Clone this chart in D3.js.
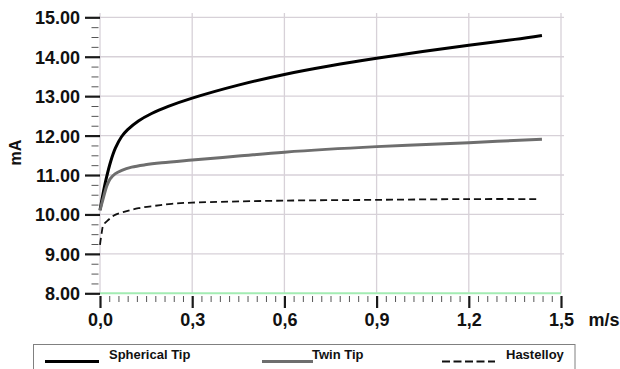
<!DOCTYPE html>
<html><head><meta charset="utf-8">
<script src="https://cdn.jsdelivr.net/npm/d3@7"></script>
<style>
html,body{margin:0;padding:0;background:#fff;}
svg{display:block;font-family:"Liberation Sans",Arial,Helvetica,sans-serif;font-weight:bold;}
</style></head>
<body>
<svg id="c" width="620" height="369"></svg>
<script>
const xTicks = [0, 0.3, 0.6, 0.9, 1.2, 1.5];
const xTickLabels = ["0,0", "0,3", "0,6", "0,9", "1,2", "1,5"];
const yTicks = [8, 9, 10, 11, 12, 13, 14, 15];
const yTickLabels = ["8.00", "9.00", "10.00", "11.00", "12.00", "13.00", "14.00", "15.00"];
const seriesNames = ["Spherical Tip", "Twin Tip", "Hastelloy"];

const sphericalX = [0, 0.008, 0.02, 0.035, 0.05, 0.07, 0.09, 0.125, 0.168, 0.222, 0.3, 0.45, 0.6, 0.75, 0.9, 1.05, 1.2, 1.35, 1.438];
const sphericalY = [10.11, 10.45, 10.9, 11.35, 11.68, 11.97, 12.15, 12.37, 12.56, 12.74, 12.95, 13.28, 13.55, 13.77, 13.96, 14.13, 14.29, 14.44, 14.54];

const twinX = [0, 0.006, 0.012, 0.022, 0.033, 0.049, 0.071, 0.103, 0.147, 0.201, 0.3, 0.45, 0.6, 0.9, 1.2, 1.438];
const twinY = [10.1, 10.28, 10.45, 10.72, 10.9, 11.03, 11.12, 11.2, 11.26, 11.31, 11.38, 11.48, 11.58, 11.72, 11.82, 11.91];

const hastX = [0, 0.006, 0.011, 0.027, 0.049, 0.081, 0.125, 0.179, 0.233, 0.3, 0.6, 0.9, 1.2, 1.424];
const hastY = [9.23, 9.56, 9.73, 9.86, 9.99, 10.07, 10.16, 10.22, 10.27, 10.30, 10.35, 10.37, 10.39, 10.39];

const svg = d3.select("#c");
const x = d3.scaleLinear().domain([0, 1.5]).range([100, 561]);
const y = d3.scaleLinear().domain([8, 15]).range([293.3, 17.3]);

const grid = "#d7d1d8";
svg.append("g").selectAll("line").data(xTicks).join("line")
  .attr("x1", d => x(d)).attr("x2", d => x(d))
  .attr("y1", 13).attr("y2", y(8))
  .attr("stroke", grid).attr("stroke-width", 1.3);
svg.append("g").selectAll("line").data(yTicks.slice(1)).join("line")
  .attr("x1", x(0)).attr("x2", 564)
  .attr("y1", d => y(d)).attr("y2", d => y(d))
  .attr("stroke", grid).attr("stroke-width", 1.3);
svg.append("line").attr("x1", x(0)).attr("x2", x(1.5)).attr("y1", y(8)).attr("y2", y(8))
  .attr("stroke", "#a3ecb3").attr("stroke-width", 2);

const yMinor = d3.range(8, 15.001, 0.25).filter(v => Math.abs(v - Math.round(v)) > 0.01);
const yMinAx = svg.append("g").attr("transform", "translate(98.5,0)")
  .call(d3.axisLeft(y).tickValues(yMinor).tickSize(7).tickFormat(""));
yMinAx.select(".domain").remove();
yMinAx.selectAll("line").attr("stroke", "#555").attr("stroke-width", 1);

const yAx = svg.append("g").attr("transform", "translate(100,0)")
  .call(d3.axisLeft(y).tickValues(yTicks).tickSize(15).tickPadding(5)
    .tickFormat((d, i) => yTickLabels[i]));
yAx.select(".domain").remove();
yAx.selectAll("line").attr("stroke", "#1a1a1a").attr("stroke-width", 2.2);
yAx.selectAll("text").attr("font-size", 18).attr("font-weight", "bold")
  .attr("font-family", "'Liberation Sans',Arial,sans-serif").attr("fill", "#111").attr("dy", "0.36em");

const xMinor = d3.range(0, 1.5001, 0.03).filter(v => Math.abs(v / 0.3 - Math.round(v / 0.3)) > 0.01);
const xMinAx = svg.append("g").attr("transform", "translate(0,296)")
  .call(d3.axisBottom(x).tickValues(xMinor).tickSize(6).tickFormat(""));
xMinAx.select(".domain").remove();
xMinAx.selectAll("line").attr("stroke", "#555").attr("stroke-width", 1);

const xAx = svg.append("g").attr("transform", "translate(0,296)")
  .call(d3.axisBottom(x).tickValues(xTicks).tickSize(12)
    .tickFormat((d, i) => xTickLabels[i]));
xAx.select(".domain").remove();
xAx.selectAll("line").attr("stroke", "#1a1a1a").attr("stroke-width", 2.2);
xAx.selectAll("text").attr("font-size", 18).attr("font-weight", "bold")
  .attr("font-family", "'Liberation Sans',Arial,sans-serif").attr("fill", "#111")
  .attr("y", 30).attr("dy", 0);

svg.append("text").attr("x", 604).attr("y", 326).attr("text-anchor", "middle")
  .attr("font-size", 18).attr("fill", "#111").text("m/s");
svg.append("text").attr("transform", "translate(21,152.5) rotate(-90)")
  .attr("text-anchor", "middle").attr("font-size", 16).attr("fill", "#111").text("mA");

const line = d3.line().x(d => x(d[0])).y(d => y(d[1])).curve(d3.curveCatmullRom.alpha(0.5));
const series = [
  {pts: d3.zip(sphericalX, sphericalY), color: "#000", w: 3, dash: null},
  {pts: d3.zip(twinX, twinY), color: "#6e6e6e", w: 3, dash: null},
  {pts: d3.zip(hastX, hastY), color: "#111", w: 1.8, dash: "7,4"}
];
series.forEach(s => {
  svg.append("path").attr("d", line(s.pts)).attr("fill", "none")
    .attr("stroke", s.color).attr("stroke-width", s.w)
    .attr("stroke-dasharray", s.dash).attr("stroke-linecap", "butt")
    .attr("stroke-linejoin", "round");
});

svg.append("rect").attr("x", 33.5).attr("y", 344.5).attr("width", 541.5).attr("height", 40)
  .attr("fill", "none").attr("stroke", "#808080").attr("stroke-width", 1);
const leg = [
  {x1: 45, x2: 99, tx: 109},
  {x1: 262, x2: 313, tx: 312},
  {x1: 442, x2: 495, tx: 506}
];
leg.forEach((l, i) => {
  const s = series[i];
  svg.append("line").attr("x1", l.x1).attr("x2", l.x2).attr("y1", 361.5).attr("y2", 361.5)
    .attr("stroke", s.color).attr("stroke-width", s.w).attr("stroke-dasharray", i === 2 ? "8,3.5" : null);
  svg.append("text").attr("x", l.tx).attr("y", 359).attr("font-size", 13).attr("fill", "#111")
    .text(seriesNames[i]);
});
</script>
</body></html>
